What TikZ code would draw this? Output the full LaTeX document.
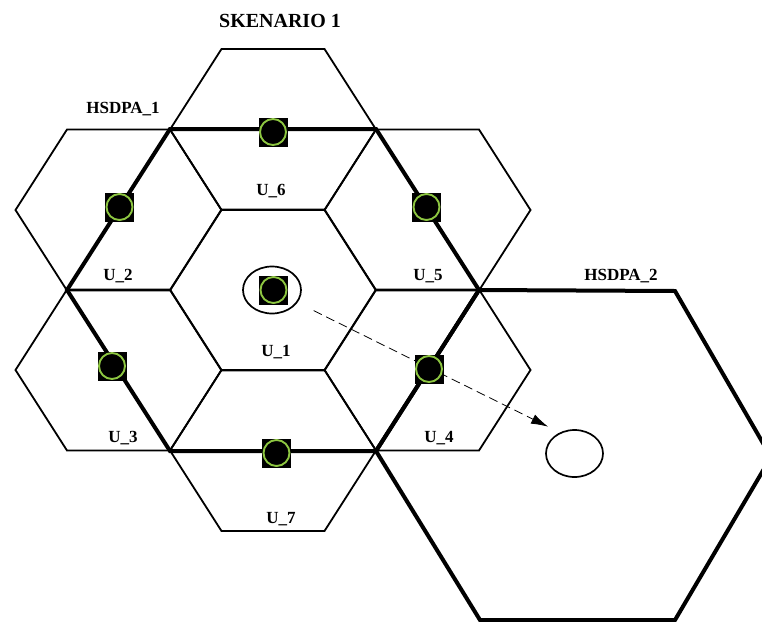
\documentclass[tikz,border=0pt]{standalone}
\usepackage{fontspec}
\setmainfont{Liberation Serif}
\usetikzlibrary{shapes.geometric,arrows.meta}
\definecolor{ringgreen}{HTML}{8DC641}
\tikzset{
cell/.style={draw, line width=1.8pt, line join=miter},
cluster/.style={draw, line width=4pt, line join=miter},
celllabel/.style={font=\fontsize{17}{20}\selectfont\bfseries, inner sep=0pt},
ue/.style={rectangle, fill=black, minimum size=29pt, inner sep=0pt,
	path picture={\draw[ringgreen, line width=1.9pt, fill=black]
		(path picture bounding box.center) circle (13pt);}},
zone/.style={draw, ellipse, line width=1.7pt, inner sep=0pt}
}
\newcommand{\hexcell}[2]{%
	\draw[cell, shift={(#1,#2)}] (-103,0) -- (-51.5,-80.5) -- (51.5,-80.5)
	-- (103,0) -- (51.5,80.5) -- (-51.5,80.5) -- cycle;}

\begin{document}
\begin{tikzpicture}[x=1pt, y=-1pt]
	\useasboundingbox (0,0) rectangle (762,621);
	\clip (0,0) rectangle (762,621);
	\foreach \cx/\cy in {273/290, 273/129.5, 118.5/210, 427.5/210,
		118.5/370, 427.5/370, 273/450.5}
		\hexcell{\cx}{\cy};
	\draw[cluster] (67,290) -- (170,129) -- (376,129) -- (479,290)
		-- (376,451) -- (170,451) -- cycle;
	\draw[cluster] (376,451) -- (479,290) -- (675,291) -- (771,457)
		-- (675,620) -- (480,620) -- cycle;
	\node[font=\fontsize{20}{24}\selectfont\bfseries] (title) at (280,21) {SKENARIO 1};
	\node[celllabel] (hsdpa1) at (123,109) {HSDPA\_1};
	\node[celllabel] (hsdpa2) at (621,276) {HSDPA\_2};
	\node[celllabel] (l1) at (276,352) {U\_1};
	\node[celllabel] (l2) at (118,276) {U\_2};
	\node[celllabel] (l3) at (123,438) {U\_3};
	\node[celllabel] (l4) at (439,438) {U\_4};
	\node[celllabel] (l5) at (428,276) {U\_5};
	\node[celllabel] (l6) at (271,191) {U\_6};
	\node[celllabel] (l7) at (281,519) {U\_7};
	\node[zone, minimum width=58pt, minimum height=47pt] (bs) at (272,290) {};
	\node[zone, minimum width=57pt, minimum height=47pt] (target) at (574.5,453.5) {};
	\draw[dashed, dash pattern=on 9pt off 5pt, line width=0.8pt,
		-{Latex[length=17pt, width=10pt]}, shorten <=18pt, shorten >=13pt]
		(bs) -- (target.125);
	\node[ue] (ue1) at (273.5,290) {};
	\node[ue] (ue2) at (119.5,207) {};
	\node[ue] (ue3) at (112,366) {};
	\node[ue] (ue4) at (429,369) {};
	\node[ue] (ue5) at (426.5,207) {};
	\node[ue] (ue6) at (273,132) {};
	\node[ue] (ue7) at (276.5,453) {};
\end{tikzpicture}
\end{document}
